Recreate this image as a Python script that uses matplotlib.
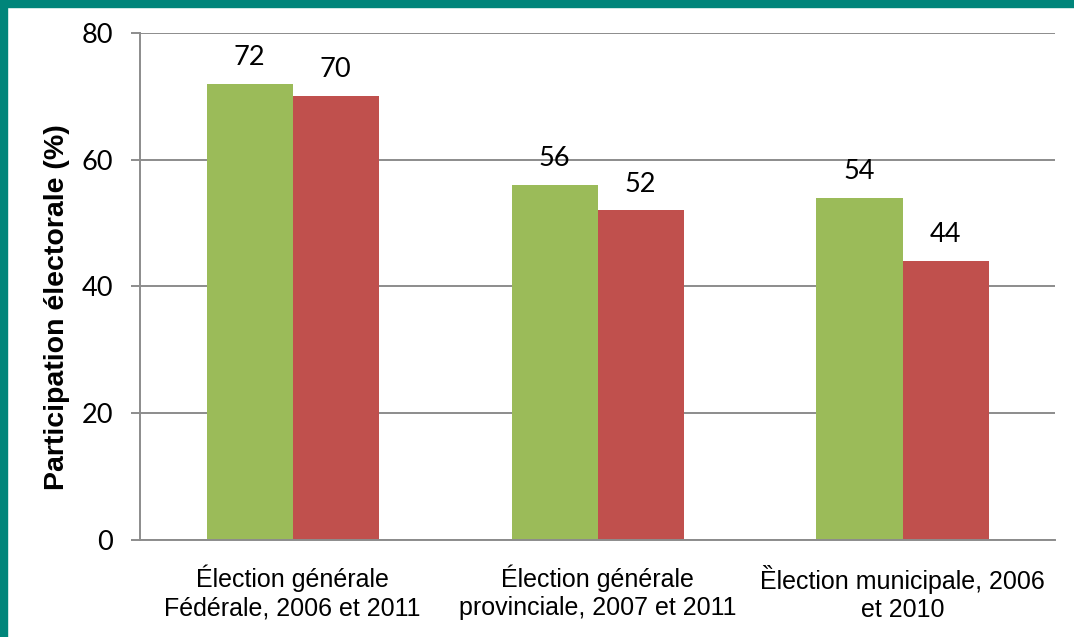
import numpy as np
import matplotlib.pyplot as plt
from matplotlib.patches import Rectangle

# data
categories = ["Élection générale\nFédérale, 2006 et 2011",
              "Élection générale\nprovinciale, 2007 et 2011",
              "Ȅlection municipale, 2006\net 2010"]
green_vals = [72, 56, 54]
red_vals = [70, 52, 44]
yticks = [0, 20, 40, 60, 80]

green = '#9BBB59'
red = '#C0504D'
grid_col = '#8C8C8C'
teal = '#00857A'

fig = plt.figure(figsize=(10.74, 6.37), dpi=100)
ax = fig.add_axes([0.1304, 0.1523, 0.8519, 0.7959])

x = np.arange(len(categories))
w = 0.282
b1 = ax.bar(x - w/2, green_vals, w, color=green, zorder=2)
b2 = ax.bar(x + w/2, red_vals, w, color=red, zorder=2)

for bars, vals in ((b1, green_vals), (b2, red_vals)):
    for rect, v in zip(bars, vals):
        ax.annotate(str(v), (rect.get_x() + rect.get_width()/2, v),
                    xytext=(0, 19), textcoords='offset points',
                    ha='center', va='center', fontsize=19.5, family='Lato', zorder=3)

ax.set_xlim(-0.5, 2.5)
ax.set_ylim(0, 80)
ax.set_yticks(yticks)
ax.yaxis.grid(True, color=grid_col, linewidth=1.4, zorder=0)
ax.set_axisbelow(True)

for s in ('top', 'right'):
    ax.spines[s].set_visible(False)
for s in ('left', 'bottom'):
    ax.spines[s].set_color(grid_col)
    ax.spines[s].set_linewidth(1.4)

ax.tick_params(axis='y', length=6.5, width=1.4, color=grid_col, pad=13,
               labelsize=19.5)
for lbl in ax.get_yticklabels():
    lbl.set_family('Lato')
ax.set_xticks(x)
ax.set_xticklabels(categories, fontsize=18, family='Liberation Sans', linespacing=1.2)
ax.tick_params(axis='x', length=0, pad=18)

ax.set_ylabel('Participation électorale (%)', fontsize=20.5, fontweight='bold',
              family='Liberation Sans')
ax.yaxis.set_label_coords(-0.077, 0.46)

# teal frame (top and left)
fig.patches.append(Rectangle((0, 1 - 7/637), 1, 7/637, transform=fig.transFigure,
                             color=teal, zorder=10))
fig.patches.append(Rectangle((0, 0), 7/1074, 1, transform=fig.transFigure,
                             color=teal, zorder=10))

fig.savefig('out.png', dpi=100)
